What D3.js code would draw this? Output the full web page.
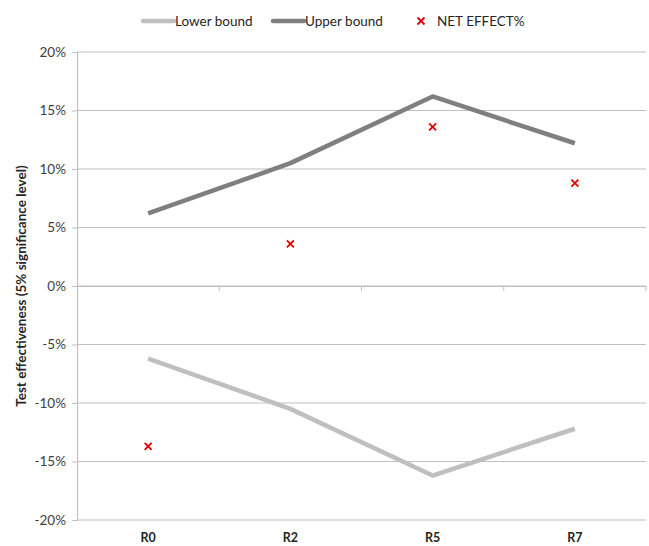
<!DOCTYPE html>
<html><head><meta charset="utf-8">
<script src="https://cdn.jsdelivr.net/npm/d3@7"></script>
<style>body{margin:0;background:#fff;} text{font-family:Lato,"Open Sans",sans-serif;}</style>
</head><body>
<svg id="c" width="649" height="546"></svg>
<script>
const categories = ["R0","R2","R5","R7"];
const lowerBound = [-6.2,-10.5,-16.2,-12.2];
const upperBound = [6.2,10.5,16.2,12.2];
const netEffect = [-13.7,3.6,13.6,8.8];
const yTicks = [-20,-15,-10,-5,0,5,10,15,20];

const svg = d3.select("#c");
const L=77,R=646,T=52,B=520;
const x = d3.scaleBand().domain(categories).range([L,R]);
const y = d3.scaleLinear().domain([-20,20]).range([B,T]);
const grid="#c0c0c0";

// gridlines
svg.append("g").selectAll("line").data(yTicks).join("line")
  .attr("x1",L).attr("x2",R).attr("y1",d=>y(d)).attr("y2",d=>y(d))
  .attr("stroke",grid).attr("stroke-width",1.2);

// y axis
const ya = svg.append("g").attr("transform",`translate(${L},0)`)
  .call(d3.axisLeft(y).tickValues(yTicks).tickSize(5).tickPadding(6).tickFormat(d=>d+"%"));
ya.select(".domain").attr("stroke",grid).attr("stroke-width",1.2);
ya.selectAll(".tick line").attr("stroke",grid);
ya.selectAll(".tick text").attr("fill","#404040").attr("font-size",13.5).attr("font-family","Lato,sans-serif");

// category axis at zero
const xa = svg.append("g").attr("transform",`translate(0,${y(0)})`)
  .call(d3.axisBottom(x).tickValues([]).tickSizeOuter(0));
xa.select(".domain").attr("stroke",grid).attr("stroke-width",1.2);
const bounds = categories.map((c,i)=>x(c)+x.bandwidth());
svg.append("g").selectAll("line").data(bounds).join("line")
  .attr("x1",d=>d).attr("x2",d=>d).attr("y1",y(0)).attr("y2",y(0)+5)
  .attr("stroke",grid).attr("stroke-width",1);

// category labels at bottom
svg.append("g").selectAll("text").data(categories).join("text")
  .attr("x",d=>x(d)+x.bandwidth()/2).attr("y",542).attr("text-anchor","middle")
  .attr("font-size",12.5).attr("font-weight","bold").attr("fill","#262626").text(d=>d);

const cx = d=>x(d)+x.bandwidth()/2;
const line = d3.line().x((d,i)=>cx(categories[i])).y(d=>y(d));
svg.append("path").datum(lowerBound).attr("d",line).attr("fill","none")
  .attr("stroke","#bfbfbf").attr("stroke-width",4.5).attr("stroke-linejoin","round");
svg.append("path").datum(upperBound).attr("d",line).attr("fill","none")
  .attr("stroke","#7f7f7f").attr("stroke-width",4.5).attr("stroke-linejoin","round");

// markers
svg.append("g").selectAll("path").data(netEffect).join("path")
  .attr("d",(d,i)=>{const px=cx(categories[i]),py=y(d),s=3.5;
    return `M${px-s},${py-s}L${px+s},${py+s}M${px-s},${py+s}L${px+s},${py-s}`;})
  .attr("stroke","#e00000").attr("stroke-width",1.8);

// y title
svg.append("text").attr("transform","translate(26,286) rotate(-90)").attr("text-anchor","middle")
  .attr("font-size",13.5).attr("font-weight","bold").attr("fill","#262626")
  .text("Test effectiveness (5% significance level)");

// legend
const lg = svg.append("g").attr("font-size",13.5).attr("fill","#262626");
const legendItems = [{t:"Lower bound",c:"#bfbfbf",type:"line",x:143},{t:"Upper bound",c:"#7f7f7f",type:"line",x:273},{t:"NET EFFECT%",c:"#e00000",type:"x",x:416}];
legendItems.forEach(it=>{
  if(it.type==="line"){
    lg.append("line").attr("x1",it.x).attr("x2",it.x+31).attr("y1",21).attr("y2",21)
      .attr("stroke",it.c).attr("stroke-width",4.5).attr("stroke-linecap","round");
    lg.append("text").attr("x",it.x+32).attr("y",25.5).text(it.t);
  } else {
    const px=it.x+5,py=21,s=3.5;
    lg.append("path").attr("d",`M${px-s},${py-s}L${px+s},${py+s}M${px-s},${py+s}L${px+s},${py-s}`)
      .attr("stroke",it.c).attr("stroke-width",1.8);
    lg.append("text").attr("x",it.x+21).attr("y",25.5).text(it.t);
  }
});
</script>
</body></html>
